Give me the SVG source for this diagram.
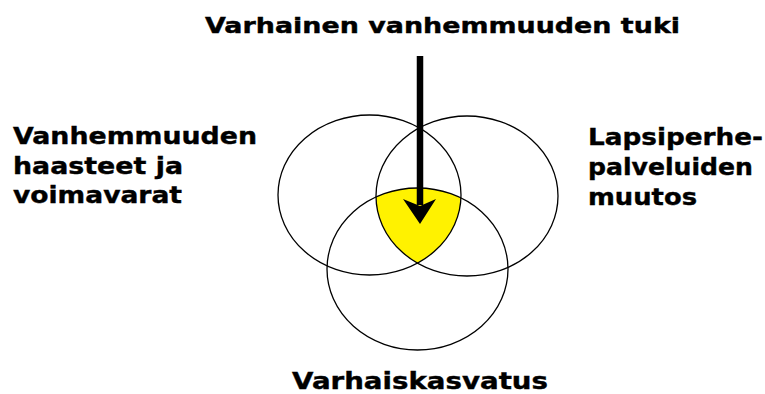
<svg xmlns="http://www.w3.org/2000/svg" width="765" height="394" viewBox="0 0 765 394">
  <style>
    .lbl { font-family: "DejaVu Sans", "Liberation Sans", Arial, sans-serif; font-weight: bold; fill: #000; stroke: #000; stroke-width: 0.4; }
    .ring { fill: none; stroke: #000; stroke-width: 1.3; }
  </style>
  <defs>
    <clipPath id="clipL"><ellipse cx="369.5" cy="195" rx="91.5" ry="80"/></clipPath>
    <clipPath id="clipR"><ellipse cx="467" cy="196" rx="91" ry="80"/></clipPath>
  </defs>
  <rect width="765" height="394" fill="#fff"/>

  <g id="intersection" clip-path="url(#clipL)">
    <ellipse cx="417.5" cy="269" rx="90.5" ry="81" fill="#fff200" clip-path="url(#clipR)"/>
  </g>

  <g id="circle-left"><ellipse class="ring" cx="369.5" cy="195" rx="91.5" ry="80"/></g>
  <g id="circle-right"><ellipse class="ring" cx="467" cy="196" rx="91" ry="80"/></g>
  <g id="circle-bottom"><ellipse class="ring" cx="417.5" cy="269" rx="90.5" ry="81"/></g>

  <g id="connectors">
    <line x1="420" y1="56" x2="420" y2="205" stroke="#000" stroke-width="6.5"/>
    <polygon points="403,199 420,206 436,199 420,224" fill="#000"/>
  </g>

  <g id="title">
    <text class="lbl" x="205" y="33" font-size="21" textLength="475" lengthAdjust="spacingAndGlyphs">Varhainen vanhemmuuden tuki</text>
  </g>

  <g id="label-left">
    <text class="lbl" x="13" y="144" font-size="23.5" textLength="244" lengthAdjust="spacingAndGlyphs">Vanhemmuuden</text>
    <text class="lbl" x="13" y="174" font-size="23.5" textLength="170" lengthAdjust="spacingAndGlyphs">haasteet ja</text>
    <text class="lbl" x="13" y="203" font-size="23.5" textLength="169" lengthAdjust="spacingAndGlyphs">voimavarat</text>
  </g>

  <g id="label-right">
    <text class="lbl" x="588" y="145" font-size="23.5" textLength="175" lengthAdjust="spacingAndGlyphs">Lapsiperhe-</text>
    <text class="lbl" x="588" y="175" font-size="23.5" textLength="165" lengthAdjust="spacingAndGlyphs">palveluiden</text>
    <text class="lbl" x="588" y="205" font-size="23.5" textLength="109" lengthAdjust="spacingAndGlyphs">muutos</text>
  </g>

  <g id="label-bottom">
    <text class="lbl" x="292" y="389" font-size="23.5" textLength="256" lengthAdjust="spacingAndGlyphs">Varhaiskasvatus</text>
  </g>
</svg>
